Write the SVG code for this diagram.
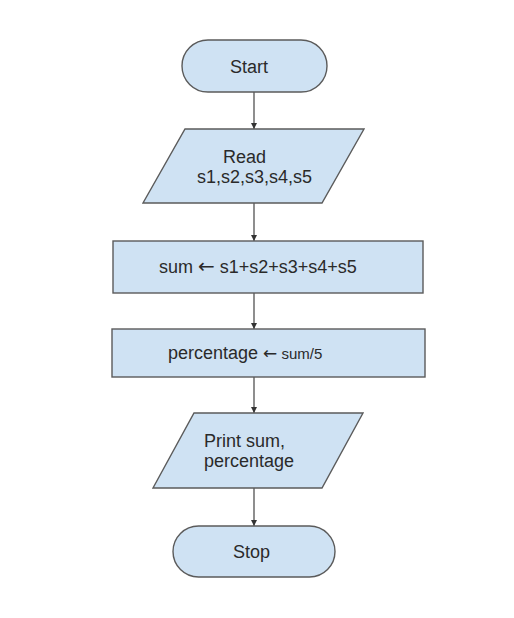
<svg xmlns="http://www.w3.org/2000/svg" width="514" height="618" viewBox="0 0 514 618">
<style>
.shape{fill:#cfe2f3;stroke:#5b5b5b;stroke-width:1.4}
.t{font-family:"Liberation Sans",Arial,sans-serif;fill:#2a2a2a;font-size:18px}
.arr{font-family:"DejaVu Sans",sans-serif}
.edge{stroke:#444;stroke-width:1.2;fill:none;marker-end:url(#ah)}
</style>
<defs>
<marker id="ah" viewBox="0 0 6 6" refX="6" refY="3" markerWidth="6" markerHeight="6" markerUnits="userSpaceOnUse" orient="auto">
<path d="M0,0 L6,3 L0,6 Z" fill="#333"/>
</marker>
</defs>
<rect width="514" height="618" fill="#fff"/>
<g id="connectors">
<line class="edge" x1="254" y1="92" x2="254" y2="129"/>
<line class="edge" x1="254" y1="203" x2="254" y2="241"/>
<line class="edge" x1="254" y1="293" x2="254" y2="329"/>
<line class="edge" x1="254" y1="377" x2="254" y2="413"/>
<line class="edge" x1="254" y1="488" x2="254" y2="526"/>
</g>
<g id="start">
<rect class="shape" x="182" y="40" width="145" height="52" rx="26" ry="26"/>
<text class="t" x="230" y="73">Start</text>
</g>
<g id="read">
<polygon class="shape" points="185,129 364,129 322,203 143,203"/>
<text class="t" x="223" y="163">Read</text>
<text class="t" x="197" y="183" font-size="17.5">s1,s2,s3,s4,s5</text>
</g>
<g id="sum">
<rect class="shape" x="113" y="241" width="310" height="52"/>
<text class="t" x="159" y="273">sum <tspan class="arr" font-size="20">←</tspan> s1+s2+s3+s4+s5</text>
</g>
<g id="percentage">
<rect class="shape" x="112" y="329" width="313" height="48"/>
<text class="t" x="168" y="359">percentage <tspan font-size="15"><tspan class="arr" font-size="17">←</tspan> sum/5</tspan></text>
</g>
<g id="print">
<polygon class="shape" points="194,413 363,413 322,488 153,488"/>
<text class="t" x="204" y="447" font-size="16">Print sum,</text>
<text class="t" x="204" y="467" font-size="16">percentage</text>
</g>
<g id="stop">
<rect class="shape" x="173" y="526" width="162" height="51" rx="25.5" ry="25.5"/>
<text class="t" x="233" y="558">Stop</text>
</g>
</svg>
